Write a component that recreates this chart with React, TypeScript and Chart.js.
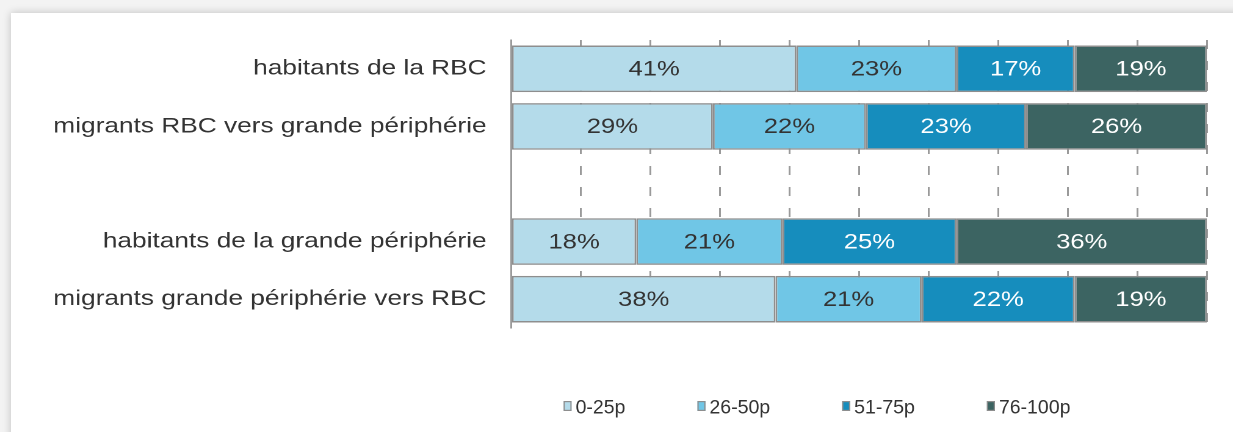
import React, { useEffect, useRef } from 'react';
import { Chart, registerables } from 'chart.js';

Chart.register(...registerables);

// ---- data ----
const categories = [
  'habitants de la RBC',
  'migrants RBC vers grande périphérie',
  '',
  'habitants de la grande périphérie',
  'migrants grande périphérie vers RBC',
];
const seriesNames = ['0-25p', '26-50p', '51-75p', '76-100p'];
const share0to25 = [41, 29, null, 18, 38];
const share26to50 = [23, 22, null, 21, 21];
const share51to75 = [17, 23, null, 25, 22];
const share76to100 = [19, 26, null, 36, 19];
const xMin = 0;
const xMax = 100;
const xStep = 10;

// ---- styles ----
const barColors = ['#b4dbea', '#70c6e6', '#168dbd', '#3c6462'];
const valueColors = ['#333333', '#333333', '#ffffff', '#ffffff'];
const FONT = '"Liberation Sans", Arial, Helvetica, sans-serif';

// canvas is drawn narrower and stretched horizontally (the reference is stretched)
const CW = 1010;
const CH = 432;
const SX = 1233 / CW;
const plotLeft = 511 / SX;
const plotRight = 1207 / SX;
const padRight = CW - plotRight;
const plotTop = 40;
const plotBottom = 328;

// legend (screen units, drawn unstretched like the reference)
const legendCenterX = 817;
const legendCenterY = 407;
const legendFontSize = 19.5;
const legendBoxW = 8;
const legendBoxH = 10;
const legendBoxGap = 4;
const legendItemGap = 72;

const valueLabels = {
  id: 'valueLabels',
  afterDatasetsDraw(chart: any) {
    const ctx = chart.ctx;
    ctx.save();
    ctx.font = `21px ${FONT}`;
    ctx.textAlign = 'center';
    ctx.textBaseline = 'middle';
    chart.data.datasets.forEach((ds: any, di: number) => {
      const meta = chart.getDatasetMeta(di);
      meta.data.forEach((el: any, i: number) => {
        const v = ds.data[i];
        if (v == null) return;
        const p = el.getProps(['x', 'y', 'base'], true);
        ctx.fillStyle = valueColors[di];
        ctx.fillText(`${v}%`, (p.x + p.base) / 2, p.y + 1);
      });
    });
    ctx.restore();
  },
};

// legend drawn from the datasets, with its text not stretched
const unstretchedLegend = {
  id: 'unstretchedLegend',
  afterDraw(chart: any) {
    const ctx = chart.ctx;
    const datasets = chart.data.datasets;
    ctx.save();
    ctx.scale(1 / SX, 1);
    ctx.font = `${legendFontSize}px ${FONT}`;
    ctx.textBaseline = 'middle';
    ctx.textAlign = 'left';
    const widths = datasets.map((d: any) => ctx.measureText(d.label).width);
    const total =
      widths.reduce((a: number, w: number) => a + w + legendBoxW + legendBoxGap, 0) +
      legendItemGap * (datasets.length - 1);
    let x = legendCenterX - total / 2;
    datasets.forEach((d: any, i: number) => {
      const by = legendCenterY - legendBoxH / 2 - 1;
      ctx.fillStyle = d.backgroundColor;
      ctx.fillRect(x, by, legendBoxW, legendBoxH);
      ctx.strokeStyle = '#8e8e8e';
      ctx.lineWidth = 1.2;
      ctx.strokeRect(x + 0.6, by + 0.6, legendBoxW - 1.2, legendBoxH - 1.2);
      ctx.fillStyle = '#333333';
      ctx.fillText(d.label, x + legendBoxW + legendBoxGap, legendCenterY + 1);
      x += legendBoxW + legendBoxGap + widths[i] + legendItemGap;
    });
    ctx.restore();
  },
};

export default function App() {
  const ref = useRef<HTMLCanvasElement>(null);

  useEffect(() => {
    const seriesData = [share0to25, share26to50, share51to75, share76to100];
    const chart = new Chart(ref.current as HTMLCanvasElement, {
      type: 'bar',
      data: {
        labels: categories,
        datasets: seriesNames.map((name, i) => ({
          label: name,
          data: seriesData[i],
          backgroundColor: barColors[i],
          borderColor: '#8e8e8e',
          borderWidth: 1.5,
          borderSkipped: false,
          barPercentage: 0.81,
          categoryPercentage: 1,
        })),
      },
      options: {
        indexAxis: 'y',
        animation: false,
        responsive: true,
        maintainAspectRatio: false,
        devicePixelRatio: 2,
        layout: { padding: { top: plotTop, bottom: CH - plotBottom, left: 0, right: padRight } },
        plugins: {
          legend: { display: false },
          tooltip: { enabled: false },
        },
        scales: {
          x: {
            stacked: true,
            min: xMin,
            max: xMax,
            ticks: { display: false, stepSize: xStep },
            grid: { color: '#9a9a9a', lineWidth: 1.5, drawTicks: false },
            border: { display: false, dash: [9, 12] },
            afterFit: (s: any) => {
              s.height = 0;
            },
          },
          y: {
            stacked: true,
            grid: { color: 'rgba(0,0,0,0)', drawTicks: false },
            border: { display: true, color: '#9a9a9a', width: 1.5 },
            ticks: {
              color: '#333333',
              font: { family: FONT, size: 21.5 },
              padding: 20,
              autoSkip: false,
            },
            afterFit: (s: any) => {
              s.width = plotLeft;
            },
          },
        },
      },
      plugins: [valueLabels, unstretchedLegend],
    } as any);
    return () => chart.destroy();
  }, []);

  return (
    <div style={{ position: 'fixed', left: 0, top: 0, width: 1233, height: 432, background: '#f3f3f3', overflow: 'hidden' }}>
      <div
        style={{
          position: 'absolute',
          left: 11,
          top: 13,
          width: 1300,
          height: 500,
          background: '#ffffff',
          boxShadow: '0 0 8px rgba(0,0,0,0.22)',
        }}
      />
      <div
        style={{
          position: 'absolute',
          left: 0,
          top: 0,
          width: CW,
          height: CH,
          transform: `scaleX(${SX})`,
          transformOrigin: '0 0',
        }}
      >
        <canvas ref={ref} />
      </div>
    </div>
  );
}
